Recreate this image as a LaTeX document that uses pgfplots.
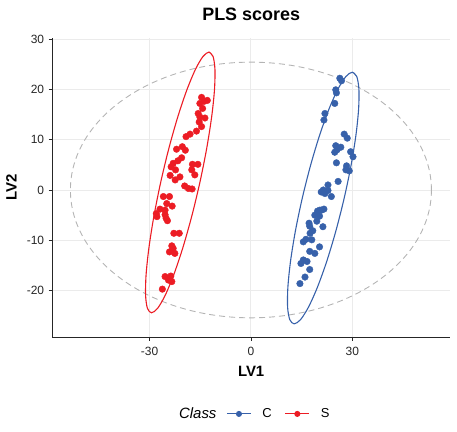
\documentclass[border=0pt]{standalone}
\usepackage{fontspec}
\setmainfont{Liberation Sans}
\usepackage{pgfplots}
\usepackage{pgfplotstable}
\pgfplotsset{compat=1.18}
\definecolor{blueC}{RGB}{55,97,170}
\definecolor{redS}{RGB}{236,28,36}
\definecolor{gridgray}{RGB}{235,235,235}
\definecolor{dashgray}{RGB}{180,180,180}

\pgfplotstableread{
x y
-14.6 18.4
-13.9 17.6
-12.9 17.8
-15.1 17.2
-14.3 16.2
-15.6 15.2
-15.1 14.5
-13.6 14.3
-15.3 13.5
-14.6 12.6
-16.1 11.7
-18.0 11.1
-19.2 10.6
-20.3 8.6
-22.0 8.1
-19.4 7.9
-20.5 6.4
-21.6 5.8
-23.0 5.3
-17.3 5.1
-15.7 5.1
-23.6 4.6
-22.3 4.0
-17.5 4.0
-16.6 3.0
-21.0 2.6
-23.9 2.9
-22.4 2.0
-19.6 0.8
-18.5 0.3
-17.4 0.2
-25.9 -1.3
-24.1 -1.3
-24.9 -2.7
-23.3 -3.2
-25.4 -4.0
-26.9 -3.8
-28.0 -4.7
-27.8 -5.3
-25.4 -4.9
-25.1 -5.6
-24.7 -6.1
-22.8 -8.6
-21.2 -8.6
-23.4 -11.1
-23.0 -11.6
-24.1 -12.3
-22.5 -12.6
-25.4 -17.2
-23.7 -17.1
-24.4 -17.9
-23.4 -18.2
-26.2 -19.7
}\redpts

\pgfplotstableread{
x y
26.3 22.2
26.8 21.7
25.1 19.9
25.3 19.3
24.8 17.2
21.9 15.2
21.6 13.9
27.6 11.1
28.5 10.3
25.1 8.8
26.6 8.5
25.5 8.0
24.8 7.5
29.5 7.6
30.2 6.6
25.3 5.4
28.3 4.8
28.1 4.0
29.1 3.8
25.8 1.7
22.8 1.0
21.4 0.0
22.8 -0.1
20.8 -0.4
21.9 -0.7
23.8 -1.3
20.4 -4.0
21.6 -3.8
19.7 -4.2
20.9 -4.0
18.9 -5.0
20.3 -5.2
17.2 -6.6
19.5 -6.2
17.4 -7.2
21.3 -7.3
18.3 -8.1
17.5 -8.6
16.3 -9.8
18.0 -9.9
15.5 -10.3
17.4 -12.2
18.9 -12.6
20.3 -11.3
15.5 -13.9
16.6 -14.2
14.8 -14.6
17.4 -15.8
16.0 -17.3
14.5 -18.6
}\bluepts

\pgfplotstableread{
x y
-12.40 27.40
-11.19 26.52
-10.64 23.93
-10.79 19.81
-11.63 14.45
-13.10 8.20
-15.10 1.50
-17.50 -5.20
-20.13 -11.45
-22.81 -16.81
-25.36 -20.93
-27.61 -23.52
-29.40 -24.40
-30.61 -23.52
-31.16 -20.93
-31.01 -16.81
-30.17 -11.45
-28.70 -5.20
-26.70 1.50
-24.30 8.20
-21.67 14.45
-18.99 19.81
-16.44 23.93
-14.19 26.52
-12.40 27.40
-11.19 26.52
}\redell

\pgfplotstableread{
x y
30.00 23.40
31.31 22.55
31.95 20.05
31.86 16.08
31.07 10.90
29.62 4.87
27.60 -1.60
25.16 -8.07
22.47 -14.10
19.70 -19.28
17.05 -23.25
14.69 -25.75
12.80 -26.60
11.49 -25.75
10.85 -23.25
10.94 -19.28
11.73 -14.10
13.18 -8.07
15.20 -1.60
17.64 4.87
20.33 10.90
23.10 16.08
25.75 20.05
28.11 22.55
30.00 23.40
31.31 22.55
}\blueell

\begin{document}
\begin{tikzpicture}
\useasboundingbox (0,0) rectangle (457bp,432bp);
\begin{axis}[
  at={(52.3bp,95bp)}, anchor=south west,
  scale only axis, width=397.7bp, height=298.5bp,
  xmin=-58.76, xmax=58.9, ymin=-29.21, ymax=30.1,
  axis x line*=bottom, axis y line*=left,
  axis line style={black!85, line width=1bp, -},
  xtick={-30,0,30}, xticklabels={-30,0,30},
  ytick={-20,-10,0,10,20,30}, yticklabels={-20,-10,0,10,20,30},
  tick align=outside, major tick length=3.7bp,
  tick style={black!85, line width=0.8bp},
  grid=major, major grid style={gridgray, line width=0.9bp},
  ticklabel style={font=\fontsize{12}{14}\selectfont, black!85},
  xticklabel style={inner sep=0pt, anchor=north, yshift=-5.8bp},
  yticklabel style={inner sep=0pt, anchor=east, xshift=-4.3bp},
  title={PLS scores},
  title style={font=\bfseries\fontsize{18}{21}\selectfont, at={(axis description cs:0.5,1)}, anchor=base, yshift=11.8bp, inner sep=0pt},
  xlabel={LV1},
  xlabel style={font=\bfseries\fontsize{15}{18}\selectfont, at={(axis description cs:0.5,0)}, anchor=base, yshift=-39.7bp, inner sep=0pt},
  ylabel={LV2},
  ylabel style={font=\bfseries\fontsize{15}{18}\selectfont, at={(axis description cs:-0.0895,0.5)}, anchor=base, inner sep=0pt},
  legend image code/.code={\draw[mark repeat=2,mark phase=2,#1] plot coordinates {(0bp,0bp) (12bp,0bp) (24bp,0bp)};},
  legend columns=-1,
  legend style={at={(axis description cs:0.3183,-0.2577)}, anchor=west, draw=none, fill=none, inner sep=0pt,
    font=\fontsize{13}{15}\selectfont, column sep=0pt,
    nodes={inner sep=0pt},
    /tikz/column 2/.style={column sep=10bp},
    /tikz/column 3/.style={column sep=11bp},
    /tikz/column 4/.style={column sep=13bp},
    /tikz/column 5/.style={column sep=11bp}},
]
\draw[dashgray, dash pattern=on 6bp off 4bp, line width=0.9bp] (axis cs:0,0) ellipse [x radius=53.4, y radius=25.4];
\addplot[redS, line width=1.1bp, smooth, no marks, forget plot] table {\redell};
\addplot[blueC, line width=1.1bp, smooth, no marks, forget plot] table {\blueell};
\addplot[redS, only marks, mark=*, mark size=3.3bp, forget plot] table {\redpts};
\addplot[blueC, only marks, mark=*, mark size=3.3bp, forget plot] table {\bluepts};
\addlegendimage{empty legend}
\addlegendentry{\fontsize{15}{18}\selectfont\itshape Class}
\addlegendimage{blueC, line width=1bp, mark=*, mark size=2.5bp}
\addlegendentry{C}
\addlegendimage{redS, line width=1bp, mark=*, mark size=2.5bp}
\addlegendentry{S}
\end{axis}
\end{tikzpicture}
\end{document}
